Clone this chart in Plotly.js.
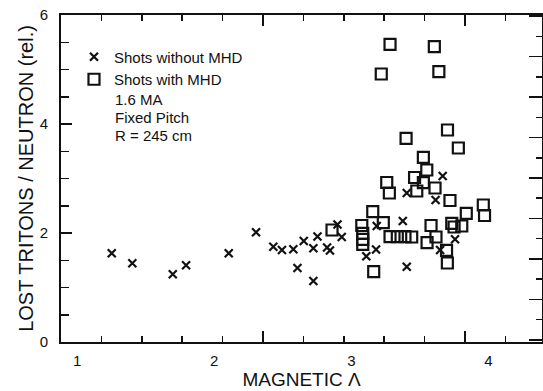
<!DOCTYPE html>
<html>
<head>
<meta charset="utf-8">
<script src="https://cdn.plot.ly/plotly-3.0.1.min.js"></script>
<style>html,body{margin:0;padding:0;background:#fff}#chart{width:543px;height:391px}</style>
</head>
<body>
<div id="chart"></div>
<script>
// Shots without MHD (crosses)
const noMhdLambda = [1.253,1.403,1.698,1.795,2.106,2.305,2.431,2.494,2.577,2.653,2.723,2.753,2.607,2.723,2.823,2.844,2.899,2.930,3.109,3.180,3.185,3.375,3.404,3.404,3.614,3.666,3.647,3.756];
const noMhdLoss   = [1.628,1.444,1.242,1.407,1.628,2.013,1.749,1.688,1.701,1.853,1.719,1.936,1.358,1.119,1.734,1.679,2.156,1.927,1.572,1.697,2.128,2.220,1.382,2.734,2.606,3.046,1.688,1.884];
// Shots with MHD (squares)
const mhdLambda = [2.859,3.076,3.083,3.083,3.083,3.156,3.233,3.163,3.282,3.335,3.391,3.440,3.258,3.277,3.461,3.477,3.525,3.550,3.525,3.610,3.399,3.701,3.780,3.719,3.962,3.971,3.838,3.732,3.749,3.805,3.581,3.617,3.552,3.694,3.700,3.282,3.605,3.218,3.638];
const mhdLoss   = [2.055,2.138,1.994,1.884,1.793,2.391,2.189,1.290,1.932,1.932,1.932,1.927,2.927,2.734,3.018,2.771,3.389,3.156,2.923,2.826,3.738,3.890,3.560,2.596,2.514,2.321,2.361,2.178,2.110,2.128,2.138,1.927,1.822,1.683,1.450,5.462,5.418,4.917,4.960];
const xTickVals = [1,2,3,4];
const xTickText = ['1','2','3','4'];
const yTickVals = [0,2,4,6];
const seriesNames = ['Shots without MHD','Shots with MHD'];
const noteLines = ['1.6 MA','Fixed Pitch','R = 245 cm'];

const ink = '#111';
const fontFam = 'Liberation Sans, Arial, Helvetica, sans-serif';

const traces = [
  {x: noMhdLambda, y: noMhdLoss, name: seriesNames[0], type:'scatter', mode:'markers',
   marker:{symbol:'x-thin-open', size:8, color:ink, line:{width:2.2, color:ink}}},
  {x: mhdLambda, y: mhdLoss, name: seriesNames[1], type:'scatter', mode:'markers',
   marker:{symbol:'square-open', size:11, color:ink, line:{width:2.2, color:ink}}},
  {x: [], y: [], xaxis:'x2', yaxis:'y2', showlegend:false, hoverinfo:'skip', type:'scatter', mode:'markers'}
];

const noteY0 = 0.775, noteDy = 18/327;
const annotations = noteLines.map((t,i)=>({
  text:t, xref:'paper', yref:'paper', x:0.108, y:noteY0 - i*noteDy,
  xanchor:'left', yanchor:'top', showarrow:false, font:{size:15, color:ink, family:fontFam}
}));

const layout = {
  width:543, height:391,
  margin:{l:61, r:1, t:15, b:49, pad:0},
  paper_bgcolor:'#fff', plot_bgcolor:'#fff',
  font:{family:fontFam, color:ink, size:15},
  showlegend:true,
  legend:{x:0.027, y:0.922, xanchor:'left', yanchor:'top', bgcolor:'rgba(0,0,0,0)',
          font:{size:15, color:ink, family:fontFam}, itemwidth:30, tracegroupgap:0},
  xaxis:{range:[0.883, 4.390], tickmode:'array', tickvals:xTickVals, ticktext:xTickText,
         ticks:'', showgrid:false, zeroline:false, showline:true, linecolor:ink, linewidth:2, mirror:true,
         tickfont:{size:15, color:ink}, ticklabelstandoff:4,
         title:{text:'MAGNETIC Λ', font:{size:19, color:ink}, standoff:5}},
  xaxis2:{range:[0, 11.906], overlaying:'x', anchor:'y', showgrid:false, zeroline:false, showline:false,
          showticklabels:false, ticks:'inside', tickmode:'linear', tick0:0, dtick:5, ticklen:11, tickwidth:1.5, tickcolor:ink,
          mirror:'ticks',
          minor:{ticks:'inside', dtick:1, tick0:0, ticklen:6, tickwidth:1.5, tickcolor:ink, showgrid:false}},
  yaxis:{range:[0,6], tickmode:'array', tickvals:yTickVals, ticks:'inside', ticklen:11, tickwidth:1.5, tickcolor:ink,
         minor:{ticks:'inside', dtick:0.5, tick0:0, ticklen:8, tickwidth:1.5, tickcolor:ink, showgrid:false},
         showgrid:false, zeroline:false, showline:true, linecolor:ink, linewidth:2, mirror:true,
         tickfont:{size:15, color:ink}, ticklabelstandoff:8,
         title:{text:'LOST TRITONS / NEUTRON (rel.)', font:{size:20, color:ink}, standoff:1}},
  yaxis2:{range:[-0.1, 16.05], overlaying:'y', side:'right', anchor:'x', showgrid:false, zeroline:false, showline:false,
          showticklabels:false, ticks:'inside', tickmode:'linear', tick0:0, dtick:2, ticklen:13, tickwidth:1.5, tickcolor:ink,
          minor:{ticks:'inside', dtick:1, tick0:0, ticklen:6, tickwidth:1.5, tickcolor:ink, showgrid:false}},
  annotations: annotations
};

Plotly.newPlot('chart', traces, layout, {staticPlot:true, displayModeBar:false});
</script>
</body>
</html>
